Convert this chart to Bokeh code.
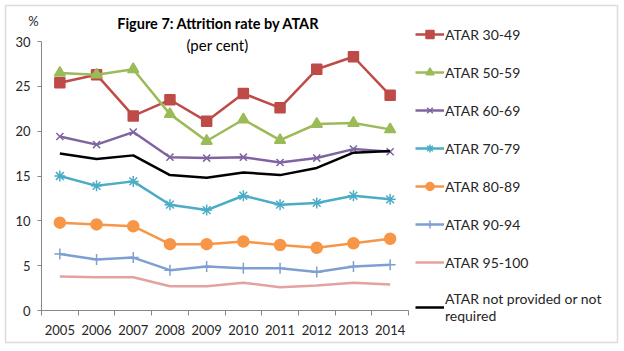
from bokeh.plotting import figure
from bokeh.models import Range1d, FixedTicker, Legend, LegendItem, Label, BoxAnnotation
from bokeh.embed import file_html
from bokeh.resources import INLINE

years = ["2005", "2006", "2007", "2008", "2009", "2010", "2011", "2012", "2013", "2014"]
atar_30_49 = [25.4, 26.3, 21.7, 23.5, 21.1, 24.2, 22.6, 26.9, 28.3, 24.0]
atar_50_59 = [26.5, 26.3, 26.9, 21.9, 18.9, 21.3, 19.0, 20.8, 20.9, 20.2]
atar_60_69 = [19.4, 18.5, 19.9, 17.1, 17.0, 17.1, 16.5, 17.0, 18.0, 17.7]
atar_70_79 = [15.0, 13.9, 14.4, 11.8, 11.2, 12.8, 11.8, 12.0, 12.8, 12.4]
atar_80_89 = [9.8, 9.6, 9.4, 7.4, 7.4, 7.7, 7.3, 7.0, 7.5, 8.0]
atar_90_94 = [6.3, 5.7, 5.9, 4.5, 4.9, 4.7, 4.7, 4.3, 4.9, 5.1]
atar_95_100 = [3.8, 3.7, 3.7, 2.7, 2.7, 3.1, 2.6, 2.8, 3.1, 2.9]
atar_none = [17.5, 16.9, 17.3, 15.1, 14.8, 15.4, 15.1, 15.9, 17.6, 17.8]
y_ticks = [0, 5, 10, 15, 20, 25, 30]
Y_MAX = 30

FONT = "Lato"
W, H = 624, 351
# plot-area placement inside the canvas (pixels)
PL, PR, PT, PB = 41, 408, 41, 310
N = len(years)
sx = (PR - PL) / N          # px per category
sy = (PB - PT) / Y_MAX      # px per unit


def dx(px):
    return (px - PL) / sx


def dy(py):
    return (PB - py) / sy


xs = [i + 0.5 for i in range(N)]

p = figure(width=W, height=H, output_backend="svg", toolbar_location=None,
           x_range=Range1d(dx(0), dx(W)), y_range=Range1d(dy(H), dy(0)),
           min_border=0, min_border_left=0, min_border_right=0,
           min_border_top=0, min_border_bottom=0)
p.outline_line_color = None
p.xgrid.grid_line_color = None
p.ygrid.grid_line_color = None

xa = p.xaxis[0]
ya = p.yaxis[0]
xa.fixed_location = 0
ya.fixed_location = 0
xa.bounds = (0, N)
ya.bounds = (0, Y_MAX)

xa.ticker = FixedTicker(ticks=xs, minor_ticks=list(range(N + 1)))
xa.major_label_overrides = {x: y for x, y in zip(xs, years)}
xa.major_tick_line_color = None
xa.minor_tick_in = 0
xa.minor_tick_out = 5
xa.minor_tick_line_color = "#868686"
ya.ticker = FixedTicker(ticks=y_ticks)
ya.minor_tick_line_color = None
ya.major_tick_in = 0
ya.major_tick_out = 4
ya.major_tick_line_color = "#868686"
for ax in (xa, ya):
    ax.axis_line_color = "#868686"
    ax.major_label_text_font = FONT
    ax.major_label_text_font_size = "13px"
    ax.major_label_text_color = "#262626"
xa.major_label_standoff = 8
ya.major_label_standoff = 7

series = [
    ("ATAR 30-49", atar_30_49, "#BE4B48", "square", 10),
    ("ATAR 50-59", atar_50_59, "#9BBB59", "triangle", 11),
    ("ATAR 60-69", atar_60_69, "#8064A2", "x", 10),
    ("ATAR 70-79", atar_70_79, "#4BACC6", "asterisk", 11),
    ("ATAR 80-89", atar_80_89, "#F79646", "circle", 11),
    ("ATAR 90-94", atar_90_94, "#7F9FD3", "cross", 11),
    ("ATAR 95-100", atar_95_100, "#E3A2A1", None, 0),
    ("ATAR not provided or not\nrequired", atar_none, "#000000", None, 0),
]

items = []
for label, vals, color, marker, size in series:
    rs = [p.line(xs, vals, line_color=color, line_width=2.5)]
    if marker:
        rs.append(p.scatter(xs, vals, marker=marker, size=size, fill_color=color,
                            line_color=color, line_width=1.5))
    items.append(LegendItem(label=label, renderers=rs))

legend = Legend(items=items, location=(415, 27), orientation="vertical",
                label_text_font=FONT, label_text_font_size="14px", label_text_color="#262626",
                label_text_line_height=1.3,
                glyph_width=29, glyph_height=20, label_height=20, spacing=18,
                padding=0, margin=0, border_line_color=None, background_fill_alpha=0,
                label_standoff=1)
p.add_layout(legend, "center")

p.add_layout(Label(x=dx(218), y=dy(23), text="Figure 7: Attrition rate by ATAR", text_font=FONT,
                   text_font_size="14.5px", text_font_style="bold", text_align="center",
                   text_baseline="middle", text_color="#000000"))
p.add_layout(Label(x=dx(217), y=dy(44), text="(per cent)", text_font=FONT,
                   text_font_size="15px", text_align="center",
                   text_baseline="middle", text_color="#000000"))
p.add_layout(Label(x=dx(33), y=dy(20), text="%", text_font=FONT,
                   text_font_size="13px", text_align="center",
                   text_baseline="middle", text_color="#262626"))

p.add_layout(BoxAnnotation(left=dx(5), right=dx(617), top=dy(5), bottom=dy(342),
                           fill_alpha=0, line_color="#8c8c8c", line_width=1.5))

open("out.html", "w").write(file_html(p, INLINE))
